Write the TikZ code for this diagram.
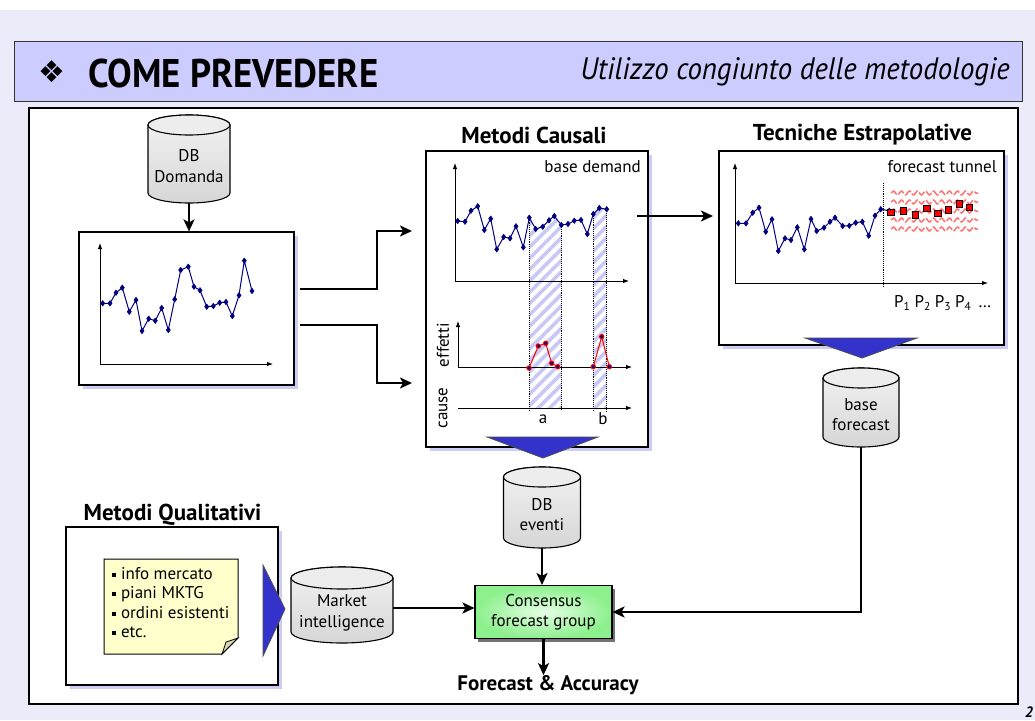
\documentclass[tikz,border=0pt]{standalone}
\usepackage{fontspec}
\setmainfont{PT Sans}
\newfontfamily\symfont{DejaVu Sans}
\usetikzlibrary{arrows.meta,patterns.meta,decorations.pathmorphing,shadows,plotmarks}

\definecolor{pagebg}{HTML}{EBEBFA}
\definecolor{barbg}{HTML}{CCCCFF}
\definecolor{shadecol}{HTML}{CCCCF5}
\definecolor{series}{HTML}{000080}
\definecolor{tri}{HTML}{3333CC}
\definecolor{notebg}{HTML}{FFFFCC}
\definecolor{hatchcol}{HTML}{C8C8F5}

% database cylinder: name, centre x, centre y, width, height, end radius, text
\newcommand\dbstore[7]{%
  \pgfmathsetmacro\dbL{#2-#4/2}\pgfmathsetmacro\dbR{#2+#4/2}%
  \pgfmathsetmacro\dbT{#3-#5/2+#6}\pgfmathsetmacro\dbB{#3+#5/2-#6}%
  \pgfmathsetmacro\dbRx{#4/2}%
  \path[dbbody] (\dbL,\dbT) -- (\dbL,\dbB)
     arc[start angle=180,end angle=0,x radius=\dbRx,y radius=#6]
     -- (\dbR,\dbT)
     arc[start angle=0,end angle=-180,x radius=\dbRx,y radius=#6] -- cycle;
  \path[dbtop] (#2,\dbT) ellipse[x radius=\dbRx,y radius=#6];
  \node[inner sep=0,minimum width=#4,minimum height=#5] (#1) at (#2,#3) {};
  \node[dbtext] (#1-text) at (#2,#3+#6*0.7) {#7};
}
\newcommand\psub[1]{\raisebox{-0.3ex}{\fontsize{11.5}{11.5}\selectfont #1}}
\newcommand\sqbullet{\raisebox{2.6pt}{\rule{3.8pt}{3.8pt}}\hspace{5pt}}

\begin{document}
\begin{tikzpicture}[x=1pt,y=-1pt,
  panel/.style={draw=black,line width=1.2pt,fill=white,inner sep=0,
    drop shadow={shadow xshift=4pt,shadow yshift=-4pt,fill=shadecol,opacity=1}},
  paneltitle/.style={font=\fontsize{23}{26}\selectfont\bfseries},
  lbl/.style={font=\fontsize{17}{20}\selectfont,inner sep=0},
  dbbody/.style={draw=black,line width=1.1pt,top color=gray!10,bottom color=gray!32},
  dbtop/.style={draw=black,line width=1.1pt,fill=gray!14},
  dbtext/.style={font=\fontsize{17}{20.5}\selectfont,align=center,inner sep=0},
  axis/.style={-{Latex[length=6pt,width=4.5pt]},line width=0.9pt},
  ser/.style={series,line width=1pt},
  serplot/.style={mark=diamond*,mark size=2.7pt,mark options={fill=series,draw=series,line width=0.6pt}},
  conn/.style={line width=2.6pt},
  arr/.style={conn,-{Stealth[length=12pt,width=11pt,inset=3pt]}},
  wedge/.style={fill=tri,draw=black!70,line width=0.8pt},
  guide/.style={densely dotted,line width=0.9pt},
  tunnel/.style={red!55,line width=1.5pt,decorate,
    decoration={snake,amplitude=2pt,segment length=8pt},dash pattern=on 8pt off 2pt}
]
\useasboundingbox (0,0) rectangle (1035,720);
\fill[white] (0,0) rectangle (1035,720);
\fill[pagebg] (0,10) rectangle (1035,720);

% heading bar
\node[draw=black!80,line width=1pt,fill=barbg,minimum width=1008,minimum height=60,inner sep=0] (bar) at (518,71) {};
\node[inner sep=0,font=\symfont\fontsize{30}{30}\selectfont] (bullet) at (52,72) {❖};
\node[anchor=west,inner sep=0,font=\fontsize{40}{40}\selectfont\bfseries] (title) at (88,73) {\scalebox{0.92}[1]{COME PREVEDERE}};
\node[anchor=east,inner sep=0,font=\fontsize{31}{31}\selectfont\itshape] (subtitle) at (1010,72) {\scalebox{0.93}[1]{Utilizzo congiunto delle metodologie}};

% main frame
\node[draw=black,line width=1.1pt,fill=white,minimum width=989,minimum height=596,inner sep=0] (frame) at (523.5,406) {};

% ---------- demand history ----------
\dbstore{dbd}{189}{159}{82}{88}{10}{DB\\Domanda}
\node[panel,minimum width=215,minimum height=153] (lc) at (186.5,308.5) {};
\draw[arr] (dbd.south) -- (dbd.south |- lc.north);
\draw[axis] (100,364) -- (100,243);
\draw[axis] (100,364) -- (273,364);
\draw[ser] plot[serplot] coordinates {
 (102.7,303.3)(110,303.3)(116,292.7)(122.3,287.7)(129.3,311.7)(136,300)(142,331)(148.7,318.7)
 (155.3,320.7)(161.7,308)(168.3,330)(174.7,299.3)(180.7,270)(188.3,266.7)(194,286.7)(200,290.3)
 (206.7,306.7)(213.3,306)(219.7,302.7)(226,302)(232.3,316)(239,295.3)(244.3,260.7)(252,291)};

% ---------- causal methods ----------
\node[paneltitle] (czt) at (534,135) {Metodi Causali};
\node[panel,minimum width=222,minimum height=296] (cz) at (537,299) {};
\node[lbl,anchor=east] (bdem) at (641,167) {base demand};
\fill[pattern={Lines[angle=45,distance=8pt,line width=3.6pt]},pattern color=hatchcol]
  (529.3,217.7) -- (535.7,229) -- (542.7,226.7) -- (549,220.3) -- (554.3,216) -- (561.3,225)
  -- (561.3,408) -- (529.3,408) -- cycle;
\fill[pattern={Lines[angle=45,distance=8pt,line width=3.6pt]},pattern color=hatchcol]
  (593.3,214) -- (599.3,208) -- (606.7,209.3) -- (606.7,408) -- (593.3,408) -- cycle;
\draw[axis] (455,281) -- (455,163);
\draw[axis] (455,281) -- (629,281);
\draw[axis] (458,367) -- (458,321);
\draw[axis] (458,367) -- (632,367);
\draw[axis] (458,408) -- (632,408);
\draw[guide] (529.3,217.7) -- (529.3,411);
\draw[guide] (561.3,225) -- (561.3,411);
\draw[guide] (593.3,214) -- (593.3,411);
\draw[guide] (606.7,209.3) -- (606.7,411);
\draw[ser] plot[serplot] coordinates {
 (457.7,221)(465,221.7)(471,210.7)(477.7,206.3)(484.3,230)(490.7,218.7)(496.7,249.3)(503.7,237)
 (510,238.3)(516,226.3)(523.3,247.3)(529.3,217.7)(535.7,229)(542.7,226.7)(549,220.3)(554.3,216)
 (561.3,225)(568,224)(574.3,220.7)(581,220)(587.3,234)(593.3,214)(599.3,208)(606.7,209.3)};
\draw[red,line width=1pt] plot[mark=*,mark size=2.2pt,mark options={draw=red,fill=series}] coordinates {
 (529,368)(538.3,346)(545.7,343.3)(551.7,363.3)(557.7,366.7)};
\draw[red,line width=1pt] plot[mark=*,mark size=2.2pt,mark options={draw=red,fill=series}] coordinates {
 (593.3,366.7)(601.7,336.7)(609.3,366.7)};
\node[lbl,rotate=90] (eff) at (443,345) {effetti};
\node[lbl,rotate=90] (cau) at (443,408) {cause};
\node[lbl] (ea) at (543,419) {a};
\node[lbl] (eb) at (603,419) {b};
\fill[wedge] (487,437) -- (598,437) -- (543,458) -- cycle;

% ---------- extrapolative techniques ----------
\node[paneltitle] (ext) at (862.5,135) {Tecniche Estrapolative};
\node[panel,minimum width=285,minimum height=194] (ex) at (861.5,248) {};
\node[lbl,anchor=east] (ftun) at (997,167) {forecast tunnel};
\foreach \ty in {193,202,211,220,229}
  \draw[tunnel] (891,\ty) -- (978,\ty);
\draw[axis] (735,283) -- (735,163);
\draw[axis] (735,283) -- (988,283);
\draw[guide] (883,183) -- (883,287);
\draw[ser] plot[serplot] coordinates {
 (738.3,223.3)(746,223.3)(752.7,212.7)(759,207.7)(765.7,231.7)(772,219.3)(778.3,251)(785,238.3)
 (791,240)(797.3,227.3)(804.3,249.3)(811,219)(816.7,231)(824,227.7)(830,221.7)(835,217.7)
 (842.7,226)(849.3,225.7)(855.7,222.7)(862.3,221.7)(868.7,235.7)(875,215.7)(880.7,209.3)(889.3,210.7)};
\path plot[only marks,mark=square*,mark size=3.3pt,mark options={fill=red,draw=black,line width=0.9pt}] coordinates {
 (890.7,212.3)(903.3,210.7)(915.3,215)(926.7,208.3)(937.7,213.3)(948.3,210)(959.3,204)(969.3,207.3)};
\node[lbl,anchor=west] (per) at (894,303) {P\psub{1} P\psub{2} P\psub{3} P\psub{4} \,…};
\fill[wedge] (805,338) -- (917,338) -- (862,358) -- cycle;
\dbstore{bf}{861}{407.5}{76}{79}{10}{base\\forecast}

% ---------- events and consensus ----------
\dbstore{dbe}{542}{507.5}{77}{81}{10}{DB\\eventi}
\node[draw=black,line width=1.1pt,inner color={rgb,255:red,230;green,255;blue,230},
  outer color={rgb,255:red,140;green,240;blue,140},
  drop shadow={shadow xshift=3pt,shadow yshift=-3pt,fill=black!55,opacity=1},
  minimum width=137,minimum height=53,align=center,inner sep=0,
  font=\fontsize{17}{20.5}\selectfont] (cons) at (543.5,612) {Consensus\\forecast group};
\node[font=\fontsize{21}{24}\selectfont\bfseries,inner sep=0] (fa) at (548,685) {Forecast \& Accuracy};
\draw[arr] (dbe.south) -- (dbe.south |- cons.north);
\draw[arr] (cons.south) -- (cons.south |- fa.north);

% ---------- qualitative methods ----------
\node[paneltitle] (qlt) at (172.5,515) {Metodi Qualitativi};
\node[panel,minimum width=212,minimum height=158] (ql) at (172,606) {};
\draw[fill=notebg,draw=black,line width=1pt] (104,559) -- (238,559) -- (238,638) -- (222,654) -- (104,654) -- cycle;
\draw[fill={rgb,255:red,215;green,215;blue,170},draw=black,line width=0.8pt] (222,654) -- (226,642) -- (238,638) -- cycle;
\node[anchor=north west,align=left,inner sep=0,font=\fontsize{17}{19.5}\selectfont] (notes) at (112,567)
  {\sqbullet info mercato\\\sqbullet piani MKTG\\\sqbullet ordini esistenti\\\sqbullet etc.};
\fill[wedge] (263,565) -- (263,656) -- (285,609) -- cycle;
\dbstore{mi}{342}{605}{102}{76}{11}{Market\\intelligence}

% ---------- connectors ----------
\coordinate (up1) at (300,289);
\coordinate (up2) at (377,289);
\coordinate (up3) at (377,231);
\coordinate (upend) at (412,231);
\coordinate (lo1) at (300,325);
\coordinate (lo2) at (377,325);
\coordinate (lo3) at (377,383);
\coordinate (loend) at (412,383);
\draw[arr] (up1) -- (up2) -- (up3) -- (upend);
\draw[arr] (lo1) -- (lo2) -- (lo3) -- (loend);
\coordinate (czout) at (637,216);
\coordinate (exin) at (713,216);
\draw[arr] (czout) -- (exin);
\draw[arr] (mi.east |- 0,608) -- (cons.west |- 0,608);
\draw[arr] (bf.south) |- (cons.east);

\node[font=\fontsize{15}{15}\selectfont\bfseries\itshape,inner sep=0] (pg) at (1029,712) {2};
\end{tikzpicture}
\end{document}
